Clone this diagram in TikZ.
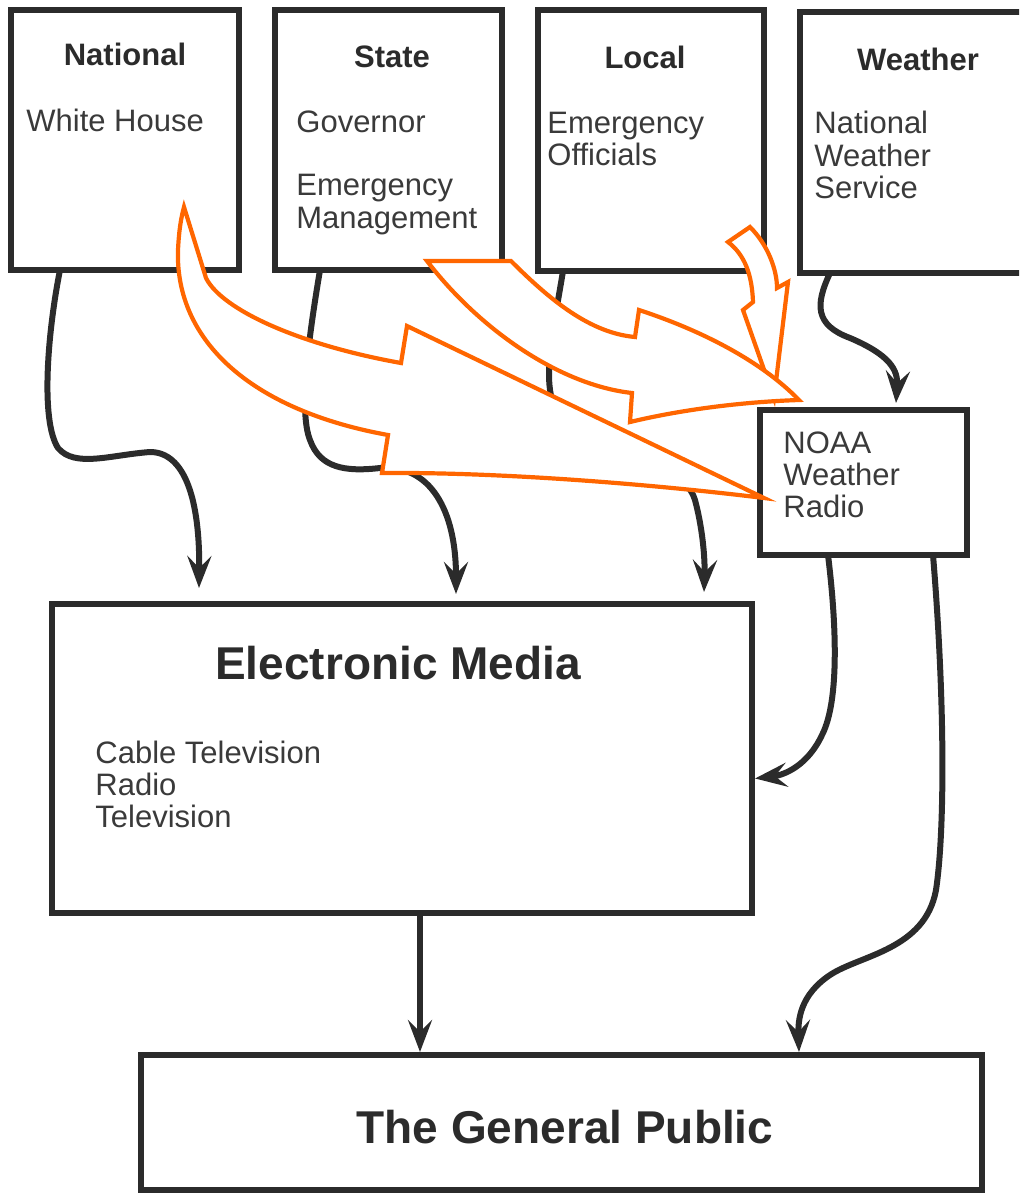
\documentclass[tikz,border=0pt]{standalone}
\usepackage{fontspec}
\setmainfont{Liberation Sans}
\usetikzlibrary{arrows.meta,calc}
\definecolor{ink}{HTML}{2B2B2B}
\definecolor{txt}{HTML}{3A3A3A}
\definecolor{flame}{HTML}{FF6600}
\begin{document}
\begin{tikzpicture}[x=0.5pt,y=-0.5pt,
  box/.style={draw=ink,line width=2.6pt,inner sep=0pt,outer sep=0pt},
  headtxt/.style={font=\fontsize{15.5}{16}\selectfont\bfseries,text=ink,inner sep=0pt,anchor=base},
  item/.style={font=\fontsize{15.5}{16}\selectfont,text=txt,inner sep=0pt,anchor=base west},
  bigtxt/.style={font=\fontsize{23}{24}\selectfont\bfseries,text=ink,inner sep=0pt,anchor=base},
  flow/.style={draw=ink,line width=3pt,-{Stealth[length=16pt,width=12pt,inset=6pt]}},
  block/.style={draw=flame,line width=2.1pt,fill=white,line join=miter}]
\useasboundingbox (0,0) rectangle (1019,1194);
\clip (0,0) rectangle (1019,1194);

% boxes
\node[box,minimum width=114pt,minimum height=130pt] (nat) at (125,140) {};
\node[box,minimum width=113.5pt,minimum height=130pt] (state) at (388.5,140) {};
\node[box,minimum width=113pt,minimum height=130.5pt] (local) at (651,140.5) {};
\node[box,minimum width=120pt,minimum height=130.5pt] (wx) at (920,142.5) {};
\node[box,minimum width=103.5pt,minimum height=72.5pt] (noaa) at (863.5,482.5) {};
\node[box,minimum width=350pt,minimum height=154.5pt] (em) at (402,758.5) {};
\node[box,minimum width=420.5pt,minimum height=67.5pt] (pub) at (561.5,1122.5) {};

% texts
\node[headtxt] (tnat) at (125,65) {National};
\node[item] (tnat1) at (26,131) {White House};
\node[headtxt] (tstate) at (392,67) {State};
\node[item] (tst1) at (296,132) {Governor};
\node[item] (tst2) at (296,195) {Emergency};
\node[item] (tst3) at (296,228) {Management};
\node[headtxt] (tloc) at (645,68) {Local};
\node[item] (tlo1) at (547,133) {Emergency};
\node[item] (tlo2) at (547,165) {Officials};
\node[headtxt] (twx) at (918,70) {Weather};
\node[item] (twx1) at (814,133) {National};
\node[item] (twx2) at (814,166) {Weather};
\node[item] (twx3) at (814,198) {Service};
\node[item] (tno1) at (783,453) {NOAA};
\node[item] (tno2) at (783,485) {Weather};
\node[item] (tno3) at (783,517) {Radio};
\node[bigtxt] (tem) at (398,679) {Electronic Media};
\node[item] (tem1) at (95,763) {Cable Television};
\node[item] (tem2) at (95,795) {Radio};
\node[item] (tem3) at (95,827) {Television};
\node[bigtxt] (tpub) at (565,1143) {The General Public};

% black connectors
\draw[flow] ($(nat.south west)+(49,0)$) .. controls (48,330) and (40,420) .. (58,448)
  .. controls (75,468) and (110,455) .. (150,452)
  .. controls (185,452) and (200,500) .. ($(em.north west)+(147,-16)$);
\draw[flow] ($(state.south west)+(45,0)$) .. controls (310,330) and (298,410) .. (310,440)
  .. controls (320,468) and (345,472) .. (380,468)
  .. controls (430,464) and (456,510) .. ($(em.north west)+(404,-10)$);
\draw[flow] ($(local.south west)+(25,0)$) .. controls (555,320) and (546,360) .. (550,390)
  .. controls (555,440) and (680,450) .. (695,500)
  .. controls (703,530) and (705,560) .. ($(em.north west)+(652,-12)$);
\draw[flow] ($(wx.south west)+(30,0)$) .. controls (815,305) and (815,325) .. (850,338)
  .. controls (890,355) and (898,370) .. ($(noaa.north west)+(136,-7)$);
\draw[flow] ($(noaa.south west)+(68,0)$) .. controls (836,620) and (840,700) .. (822,735)
  .. controls (808,765) and (785,775) .. ($(em.east)+(3,20)$);
\draw[flow] ($(noaa.south east)+(-34,0)$) .. controls (945,700) and (945,830) .. (936,890)
  .. controls (925,950) and (860,955) .. (830,975)
  .. controls (800,995) and (798,1020) .. ($(pub.north west)+(658,-3)$);
\draw[flow] ($(em.south)+(18,0)$) -- ($(pub.north west)+(279,-3)$);

% orange block arrows
\draw[block] (184,207) -- (206,278) .. controls (222,310) and (300,345) .. (401,363)
  -- (407,326) -- (764,498) .. controls (650,484) and (500,472) .. (382,473)
  -- (388,435) .. controls (250,410) and (175,340) .. (178,250)
  .. controls (179,230) and (181,218) .. cycle;
\draw[block] (728,242) -- (750,227) .. controls (768,245) and (777,270) .. (777,288)
  -- (788,282) -- (774,398) -- (743,310) -- (753,302)
  .. controls (752,275) and (745,255) .. cycle;
\draw[block] (427,261) -- (511,261) .. controls (550,300) and (590,333) .. (635,337)
  -- (639,310) .. controls (700,330) and (760,360) .. (799,400)
  .. controls (740,402) and (680,410) .. (630,422)
  -- (632,393) .. controls (560,385) and (480,330) .. cycle;
\end{tikzpicture}
\end{document}
